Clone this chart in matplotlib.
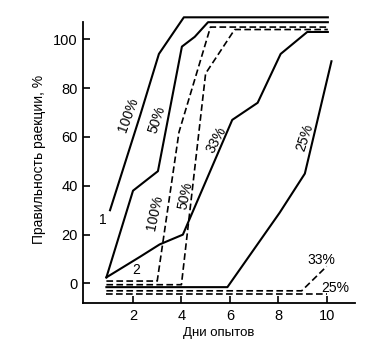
import matplotlib.pyplot as plt

plt.rcParams["font.family"] = ["Liberation Sans", "DejaVu Sans"]

# solid curves (series 1)
s100_x = [1.05, 2.3, 3.07, 4.1, 10.05]
s100_y = [30, 69, 94, 109, 109]
s50_x = [0.9, 2.0, 3.03, 4.02, 4.55, 5.1, 10.05]
s50_y = [2.5, 38, 46, 97, 101, 107, 107]
s33_x = [0.9, 2.3, 3.1, 4.06, 6.1, 7.15, 8.1, 9.2, 10.05]
s33_y = [2.5, 11, 16, 20, 67, 74, 94, 103, 103]
s25_x = [0.9, 5.9, 8.06, 9.1, 10.2]
s25_y = [-1.5, -1.5, 29, 45, 91]

# dashed curves (series 2)
d100_x = [0.9, 3.0, 3.9, 5.2, 10.05]
d100_y = [1, 1, 62, 105, 105]
d50_x = [0.9, 4.0, 5.0, 6.2, 10.05]
d50_y = [-0.5, -0.5, 86, 104, 104]
d33_x = [0.9, 8.97, 10.0]
d33_y = [-3, -3, 7]
d25_x = [0.9, 10.0]
d25_y = [-4.2, -4.2]

fig = plt.figure(figsize=(3.78, 3.54), dpi=100)
ax = fig.add_axes([0.22, 0.144, 0.719, 0.814])

for x, y in [(s100_x, s100_y), (s50_x, s50_y), (s33_x, s33_y), (s25_x, s25_y)]:
    ax.plot(x, y, color="black", lw=1.5, clip_on=False)
for x, y in [(d100_x, d100_y), (d50_x, d50_y), (d33_x, d33_y), (d25_x, d25_y)]:
    ax.plot(x, y, color="black", lw=1.2, ls=(0, (4, 2)), clip_on=False)

ax.set_xlim(-0.06, 11.17)
ax.set_ylim(-8, 110)
ax.spines["top"].set_visible(False)
ax.spines["right"].set_visible(False)
ax.spines["left"].set_bounds(-8, 107)
ax.spines["left"].set_linewidth(1.3)
ax.spines["bottom"].set_linewidth(1.3)
ax.set_xticks([2, 4, 6, 8, 10])
ax.set_yticks([0, 20, 40, 60, 80, 100])
ax.tick_params(direction="in", length=5, width=1.2, labelsize=10.5, pad=4)

ax.set_xlabel("Дни опытов", fontsize=9.5, labelpad=3)
ax.set_ylabel("Правильность раекции, %", fontsize=10, labelpad=5)

fs = 10
ax.text(0.77, 26, "1", fontsize=fs, ha="center", va="center")
ax.text(2.15, 5.5, "2", fontsize=fs, ha="center", va="center")
ax.text(1.8, 69, "100%", fontsize=fs, rotation=70, ha="center", va="center")
ax.text(3.0, 67, "50%", fontsize=fs, rotation=72, ha="center", va="center")
ax.text(2.9, 29, "100%", fontsize=fs, rotation=78, ha="center", va="center")
ax.text(4.15, 36, "50%", fontsize=fs, rotation=78, ha="center", va="center")
ax.text(5.45, 59, "33%", fontsize=fs, rotation=62, ha="center", va="center")
ax.text(9.1, 60, "25%", fontsize=fs, rotation=72, ha="center", va="center")
ax.text(9.8, 9.5, "33%", fontsize=fs, ha="center", va="center")
ax.text(10.35, -2, "25%", fontsize=fs, ha="center", va="center")

fig.savefig("out.png", dpi=100)
